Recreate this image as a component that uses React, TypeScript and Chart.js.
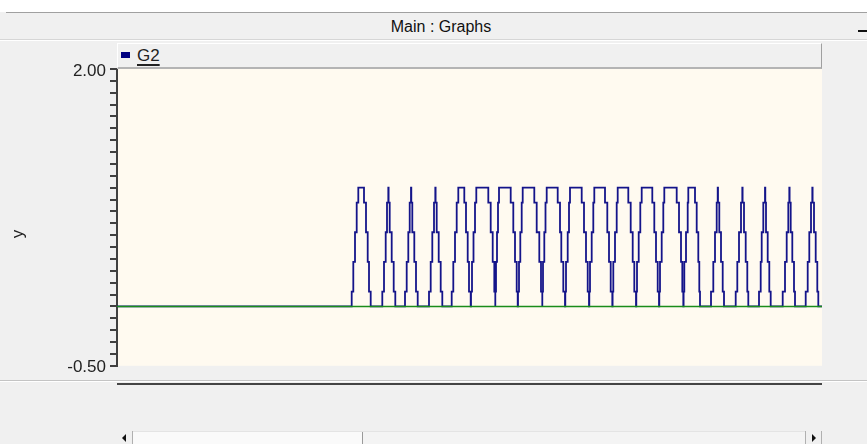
import React, { useEffect, useRef } from 'react';
import { Chart, registerables } from 'chart.js';

Chart.register(...registerables);

// ---- data ----
const TITLE = 'Main : Graphs';
const SERIES_NAME = 'G2';
const Y_AXIS_TITLE = 'y';
const T_MIN = 0;
const T_MAX = 705;
const Y_MIN = -0.5;
const Y_MAX = 2;
const Y_STEP = 0.1;
const Y_LABELED_TICKS = [2, -0.5];
const LEVELS_UP = [0.125, 0.375, 0.625, 0.875, 1.0];
const LEVELS_DOWN = [0.875, 0.625, 0.375, 0.125, 0];
const BASELINE_VALUES = [0, 0];

// per pulse: times at which the staircase steps up to LEVELS_UP[k]
const RISE_TIMES = [
  [234.7, 236.3, 238, 239.7, 241.3],
  [265.3, 267, 268.7, 270, 271.3],
  [288, 289.7, 291.3, 292.7, 294],
  [312, 313.7, 315.3, 317, 318.3],
  [334.7, 336.3, 338, 339.7, 341.3],
  [354, 355, 356.5, 358, 359.3],
  [378.3, 379, 380, 381, 382],
  [401, 402, 403.3, 404.7, 405.7],
  [425.3, 426, 427.3, 428.5, 429.7],
  [448.3, 449, 450.7, 452, 453],
  [472.3, 473, 474.7, 476.3, 477.3],
  [495.6, 496.3, 498, 499.7, 500.7],
  [519.3, 520, 521.7, 523.3, 524.7],
  [542.3, 543, 544.7, 546.3, 547.3],
  [566.6, 567.3, 569, 570.7, 571.3],
  [594, 596.3, 598, 599.7, 600.7],
  [618.7, 620.3, 622, 624, 625.3],
  [642, 643.7, 644.7, 646.3, 648],
  [665.7, 668, 669.7, 671.3, 672.3],
  [688.7, 690.7, 692.3, 694, 695.3],
];

// per pulse: times at which the staircase steps down to LEVELS_DOWN[k]
const FALL_TIMES = [
  [247, 249, 250.7, 252, 253.7],
  [271.6, 272.7, 274.7, 276.7, 278.3],
  [294.3, 295.3, 297.3, 299, 300.7],
  [318.6, 319.7, 321.7, 323.7, 325.3],
  [347.3, 349, 350.7, 352, 353.7],
  [371.3, 373.7, 375.7, 377.3, 378.3],
  [393.7, 396.3, 398, 399.7, 400.7],
  [417.3, 419.7, 422.3, 424, 425.3],
  [440.7, 443, 444.3, 446.3, 448],
  [464.7, 467, 469, 470.7, 472],
  [488, 490.3, 492, 493.7, 495.3],
  [511.3, 513.7, 515.7, 517.3, 519],
  [535.3, 537.3, 539, 540.7, 542],
  [559.7, 562, 564, 565.3, 566.3],
  [578, 579.7, 581.3, 582.3, 583],
  [601, 602.3, 604, 605.7, 607],
  [625.6, 627, 628.7, 630.3, 631.3],
  [648.3, 649, 650.7, 652.3, 653.7],
  [672.6, 673.7, 675.3, 677, 678],
  [695.6, 697, 698.7, 700.3, 701.3],
];

const FONT = '"Liberation Sans", Arial, sans-serif';

function buildG2() {
  const pts: { x: number; y: number }[] = [{ x: T_MIN, y: 0 }];
  RISE_TIMES.forEach((rise, i) => {
    rise.forEach((t, k) => pts.push({ x: t, y: LEVELS_UP[k] }));
    FALL_TIMES[i].forEach((t, k) => pts.push({ x: t, y: LEVELS_DOWN[k] }));
  });
  pts.push({ x: T_MAX, y: 0 });
  return pts;
}

const bgPlugin = {
  id: 'areaBg',
  beforeDraw(chart: any) {
    const { ctx, chartArea } = chart;
    if (!chartArea) return;
    ctx.save();
    ctx.fillStyle = '#fffaf0';
    ctx.fillRect(chartArea.left, chartArea.top, chartArea.right - chartArea.left, chartArea.bottom - chartArea.top);
    ctx.restore();
  },
};

function GraphCanvas() {
  const ref = useRef<HTMLCanvasElement | null>(null);
  useEffect(() => {
    if (!ref.current) return;
    const chart = new Chart(ref.current, {
      type: 'line',
      data: {
        datasets: [
          {
            label: 'baseline',
            data: [
              { x: T_MIN, y: BASELINE_VALUES[0] },
              { x: T_MAX, y: BASELINE_VALUES[1] },
            ],
            borderColor: '#1a8c1a',
            borderWidth: 1.6,
            pointRadius: 0,
            order: 0,
          },
          {
            label: SERIES_NAME,
            data: buildG2(),
            borderColor: '#14148a',
            borderWidth: 1.8,
            pointRadius: 0,
            stepped: true,
            order: 1,
          },
        ],
      },
      options: {
        animation: false,
        responsive: false,
        events: [],
        layout: { padding: { left: 0, right: 45, top: 29, bottom: 14 } },
        plugins: { legend: { display: false }, tooltip: { enabled: false } },
        scales: {
          x: { type: 'linear', min: T_MIN, max: T_MAX, display: false },
          y: {
            type: 'linear',
            min: Y_MIN,
            max: Y_MAX,
            afterFit: (s: any) => {
              s.width = 117;
            },
            border: { color: '#404040', width: 2 },
            grid: { drawOnChartArea: false, color: '#404040', lineWidth: 2, tickLength: 7 },
            ticks: {
              stepSize: Y_STEP,
              autoSkip: false,
              maxTicksLimit: 60,
              padding: 4,
              labelOffset: 2,
              color: '#222',
              font: { family: FONT, size: 17 },
              callback: (v: any) => {
                const n = Number(v);
                const hit = Y_LABELED_TICKS.find((t) => Math.abs(t - n) < 1e-6);
                return hit === undefined ? '' : hit.toFixed(2);
              },
            },
          },
        },
      },
      plugins: [bgPlugin],
    } as any);
    return () => chart.destroy();
  }, []);
  return <canvas ref={ref} width={867} height={340} style={{ display: 'block', width: 867, height: 340 }} />;
}

export default function App() {
  const abs = (l: number, t: number, w: number, h: number, extra: React.CSSProperties = {}): React.CSSProperties => ({
    position: 'absolute',
    left: l,
    top: t,
    width: w,
    height: h,
    ...extra,
  });
  return (
    <div style={{ position: 'fixed', left: 0, top: 0, width: 867, height: 444, background: '#f0f0f0', overflow: 'hidden', fontFamily: FONT }}>
      <div style={abs(0, 0, 867, 12, { background: '#ffffff' })} />
      <div style={abs(6, 12, 861, 1, { background: '#a0a0a0' })} />
      <div style={abs(0, 13, 867, 27, { background: '#f0f0f0' })} />
      <div style={abs(0, 17, 867, 20, { fontSize: 16, lineHeight: '20px', color: '#111' })}>
        <span style={{ position: 'absolute', left: 441, transform: 'translateX(-50%)', whiteSpace: 'nowrap' }}>{TITLE}</span>
      </div>
      <div style={abs(0, 39, 867, 1, { background: '#d6d6d6' })} />
      <div style={abs(0, 40, 867, 1, { background: '#ffffff' })} />
      <div style={abs(858, 30, 9, 2, { background: '#111' })} />

      <div style={abs(0, 40, 867, 340)}>
        <GraphCanvas />
      </div>

      <div style={abs(117, 43, 705, 26, { boxSizing: 'border-box', background: '#f0f0f0', borderTop: '1px solid #ffffff', borderLeft: '1px solid #ffffff', borderRight: '1px solid #a0a0a0', borderBottom: '2px solid #b4b4b4' })} />
      <div style={abs(121, 52, 9, 6, { background: '#000080' })} />
      <div style={abs(137, 46, 40, 20, { fontSize: 17, lineHeight: '20px', color: '#222', textDecoration: 'underline', textDecorationThickness: '2px', textUnderlineOffset: '3px' })}>
        {SERIES_NAME}
      </div>

      <div style={abs(8, 224, 20, 20, { fontSize: 17, lineHeight: '20px', color: '#222', textAlign: 'center', transform: 'rotate(-90deg)' })}>
        {Y_AXIS_TITLE}
      </div>

      <div style={abs(0, 380, 867, 1, { background: '#c4c4c4' })} />
      <div style={abs(0, 381, 867, 1, { background: '#ffffff' })} />
      <div style={abs(117, 383, 705, 2, { background: '#454545' })} />

      <div style={abs(117, 431, 705, 13, { background: '#f4f4f4', borderTop: '1px solid #e4e4e4', boxSizing: 'border-box' })} />
      <div style={abs(133, 432, 230, 12, { background: '#fafafa', borderRight: '1px solid #9a9a9a', boxSizing: 'border-box' })} />
      <div style={abs(117, 431, 16, 13, { background: '#f0f0f0', borderRight: '1px solid #b0b0b0', boxSizing: 'border-box' })} />
      <div style={abs(122, 434, 0, 0, { borderTop: '4px solid transparent', borderBottom: '4px solid transparent', borderRight: '4px solid #111' })} />
      <div style={abs(805, 431, 17, 13, { background: '#f0f0f0', borderLeft: '1px solid #b0b0b0', borderRight: '1px solid #b0b0b0', boxSizing: 'border-box' })} />
      <div style={abs(812, 434, 0, 0, { borderTop: '4px solid transparent', borderBottom: '4px solid transparent', borderLeft: '4px solid #111' })} />
    </div>
  );
}
